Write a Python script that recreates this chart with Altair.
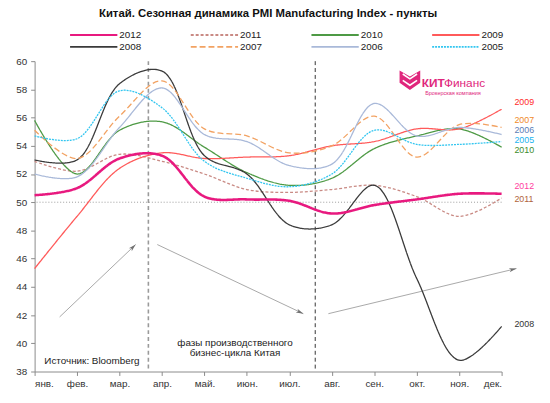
import math
import altair as alt
import pandas as pd

# ---------------- data ----------------
months = ["янв.", "фев.", "мар.", "апр.", "май.", "июн.", "июл.", "авг.", "сен.", "окт.", "ноя.", "дек."]
years = ["2012", "2011", "2010", "2009", "2008", "2007", "2006", "2005"]

pmi_2012 = [50.5, 51.0, 53.1, 53.3, 50.4, 50.2, 50.1, 49.2, 49.8, 50.2, 50.6, 50.6]
pmi_2011 = [52.9, 52.2, 53.4, 52.9, 52.0, 50.9, 50.7, 50.9, 51.2, 50.4, 49.0, 50.3]
pmi_2010 = [55.8, 52.0, 55.1, 55.7, 53.9, 52.1, 51.2, 51.7, 53.8, 54.7, 55.2, 53.9]
pmi_2009 = [45.3, 49.0, 52.4, 53.5, 53.1, 53.2, 53.3, 54.0, 54.3, 55.2, 55.2, 56.6]
pmi_2008 = [53.0, 53.0, 58.4, 59.3, 53.3, 52.0, 48.4, 48.4, 51.2, 44.6, 38.8, 41.2]
pmi_2007 = [55.1, 53.1, 56.1, 58.6, 55.2, 54.7, 53.5, 54.0, 56.1, 53.2, 55.5, 55.3]
pmi_2006 = [52.0, 51.8, 55.3, 58.1, 54.8, 54.3, 52.6, 52.7, 57.0, 54.7, 55.3, 54.8]
pmi_2005 = [54.7, 54.5, 57.9, 56.7, 52.9, 51.7, 51.1, 52.0, 55.1, 54.1, 54.1, 54.3]

# right-hand year labels (value level where each label sits)
label_years = ["2009", "2007", "2006", "2005", "2010", "2012", "2011", "2008"]
label_levels = [57.1, 55.82, 55.15, 54.4, 53.7, 51.15, 50.2, 41.35]

# phase boundaries (month position)
phase_lines = [2.68, 6.61]

# arrows: start month, start level, end month, end level
arrow_x1 = [0.59, 2.89, 6.92]
arrow_y1 = [41.87, 47.0, 42.1]
arrow_x2 = [2.38, 6.33, 11.35]
arrow_y2 = [47.0, 42.1, 45.3]

# ---------------- styles ----------------
line_colors = ["#e8197f", "#c98a84", "#4e9a45", "#ff5a5a", "#3a3a3a", "#f2a262", "#a9b9d9", "#33c6f0"]
line_dashes = [[1, 0], [3, 2], [1, 0], [1, 0], [1, 0], [6, 3], [1, 0], [2, 1]]
label_colors = {"2009": "#ff2a2a", "2007": "#f08a2a", "2006": "#5b7db5", "2005": "#22b4f0",
                "2010": "#3c8c2c", "2012": "#ff3ea0", "2011": "#b0643c", "2008": "#333333"}

FONT = "Liberation Sans"
W, H = 474, 315
XMAX, YMIN, YMAX = 11, 38, 60
px_x = W / XMAX
px_y = H / (YMAX - YMIN)

series = {"2012": pmi_2012, "2011": pmi_2011, "2010": pmi_2010, "2009": pmi_2009,
          "2008": pmi_2008, "2007": pmi_2007, "2006": pmi_2006, "2005": pmi_2005}
rows = []
for y in years:
    for i, v in enumerate(series[y]):
        rows.append({"m": i, "year": y, "v": v})
df = pd.DataFrame(rows)

xs = alt.Scale(domain=[0, XMAX], nice=False, zero=False)
ys = alt.Scale(domain=[YMIN, YMAX], nice=False, zero=False)

month_js = "[" + ",".join("'" + m + "'" for m in months) + "]"

x_axis = alt.Axis(values=list(range(12)), labelExpr=f"{month_js}[datum.value]", title=None,
                  grid=False, domainColor="#8a8a8a", tickColor="#8a8a8a", tickSize=4,
                  labelColor="#333333", labelFont=FONT, labelFontSize=10, labelPadding=3,
                  labelOverlap=False)
y_axis = alt.Axis(values=list(range(38, 61, 2)), title=None, grid=False,
                  domainColor="#8a8a8a", tickColor="#8a8a8a", tickSize=4,
                  labelColor="#333333", labelFont=FONT, labelFontSize=10, labelPadding=4,
                  labelOverlap=False)


def X(field):
    return alt.X(field, scale=xs, axis=x_axis)


def Y(field):
    return alt.Y(field, scale=ys, axis=y_axis)


# legend symbol: a long horizontal stroke drawn in a small symbol box
leg = alt.Legend(title=None, orient="none", legendX=35, legendY=-33.5,
                 columns=4, direction="horizontal", gridAlign="all",
                 symbolType="M-4,0L4,0", symbolSize=144, symbolStrokeWidth=2,
                 symbolOffset=18,
                 labelFont=FONT, labelFontSize=10, labelFontWeight="normal", labelColor="#222",
                 labelOffset=19, columnPadding=45.5, rowPadding=0, padding=0)
color_enc = alt.Color("year:N", scale=alt.Scale(domain=years, range=line_colors), legend=leg)
dash_enc = alt.StrokeDash("year:N", scale=alt.Scale(domain=years, range=line_dashes), legend=leg)

base = alt.Chart(df)
lines = base.transform_filter(alt.datum.year != "2012").mark_line(
    interpolate="catmull-rom", strokeWidth=1.3).encode(
    x=X("m:Q"), y=Y("v:Q"), color=color_enc, strokeDash=dash_enc)
line12 = base.transform_filter(alt.datum.year == "2012").mark_line(
    interpolate="catmull-rom", strokeWidth=2.6).encode(
    x=X("m:Q"), y=Y("v:Q"), color=color_enc, strokeDash=dash_enc)

# reference line at 50
ref50 = alt.Chart(pd.DataFrame({"v": [50]})).mark_rule(
    color="#9a9a9a", strokeDash=[1, 2], strokeWidth=1).encode(y=Y("v:Q"))

# phase boundaries
ph = pd.DataFrame({"m": phase_lines})
phase1 = alt.Chart(ph.iloc[[0]]).mark_rule(color="#9a9a9a", strokeWidth=1.6, strokeDash=[4, 3]).encode(
    x=X("m:Q"))
phase2 = alt.Chart(ph.iloc[[1]]).mark_rule(color="#333333", strokeWidth=1, strokeDash=[4, 3]).encode(
    x=X("m:Q"))

# arrows
ang = []
for a, b, c, d in zip(arrow_x1, arrow_y1, arrow_x2, arrow_y2):
    dx = (c - a) * px_x
    dy = -(d - b) * px_y
    ang.append(math.degrees(math.atan2(dx, -dy)) % 360)
arr = pd.DataFrame({"x1": arrow_x1, "y1": arrow_y1, "x2": arrow_x2, "y2": arrow_y2, "ang": ang})
shafts = alt.Chart(arr).mark_rule(color="#a8a8a8", strokeWidth=1).encode(
    x=X("x1:Q"), y=Y("y1:Q"), x2="x2:Q", y2="y2:Q")
heads = alt.Chart(arr).mark_point(
    shape="M0,0 L0.42,1.5 L0,1.1 L-0.42,1.5 Z", filled=True, color="#707070", opacity=1,
    size=100, strokeWidth=0).encode(
    x=X("x2:Q"), y=Y("y2:Q"), angle=alt.Angle("ang:Q", scale=None))

# right labels
lab = pd.DataFrame({"year": label_years, "lv": label_levels,
                    "m": [XMAX] * len(label_years),
                    "col": [label_colors[y] for y in label_years]})
labels = alt.Chart(lab).mark_text(align="left", baseline="middle", dx=13, font=FONT, fontSize=9).encode(
    x=X("m:Q"), y=Y("lv:Q"), text="year:N", color=alt.Color("col:N", scale=None))

# annotations
ann = pd.DataFrame({"m": [1.35, 4.72, 4.72], "v": [38.75, 40.05, 39.3],
                    "t": ["Источник: Bloomberg", "фазы производственного", "бизнес-цикла Китая"]})
notes = alt.Chart(ann).mark_text(align="center", baseline="middle", font=FONT, fontSize=10,
                                 color="#222222").encode(x=X("m:Q"), y=Y("v:Q"), text="t:N")

# logo
logo_icon = alt.Chart(pd.DataFrame({"m": [8.84], "v": [58.65]})).mark_point(
    shape="M-1,-0.95 L0,-0.35 L1,-0.95 L1,0.25 L0,0.95 L-1,0.25 Z", filled=True,
    color="#e0267c", opacity=1, size=440, strokeWidth=0).encode(x=X("m:Q"), y=Y("v:Q"))
logo_stripe = alt.Chart(pd.DataFrame({"m": [8.84, 8.84], "v": [58.9, 58.45]})).mark_point(
    shape="M-0.8,-0.3 L0,0.25 L0.8,-0.3", filled=False, color="white", opacity=1,
    size=330, strokeWidth=1.6).encode(x=X("m:Q"), y=Y("v:Q"))
logo_kit = alt.Chart(pd.DataFrame({"m": [9.12], "v": [58.14], "t": ["КИТ"]})).mark_text(
    align="left", baseline="alphabetic", font=FONT, fontSize=12, fontWeight="bold",
    color="#e0267c").encode(x=X("m:Q"), y=Y("v:Q"), text="t:N")
logo_fin = alt.Chart(pd.DataFrame({"m": [9.12], "v": [58.14], "t": ["Финанс"]})).mark_text(
    align="left", baseline="alphabetic", dx=22.5, font=FONT, fontSize=12,
    color="#e0267c").encode(x=X("m:Q"), y=Y("v:Q"), text="t:N")
logo_sub = alt.Chart(pd.DataFrame({"m": [9.2], "v": [57.6], "t": ["Брокерская компания"]})).mark_text(
    align="left", baseline="alphabetic", font=FONT, fontSize=5.6,
    color="#e0267c").encode(x=X("m:Q"), y=Y("v:Q"), text="t:N")

chart = alt.layer(
    ref50, phase1, phase2, shafts, heads, lines, line12, labels, notes,
    logo_icon, logo_stripe, logo_kit, logo_fin, logo_sub
).properties(
    width=W, height=H,
    title=alt.TitleParams("Китай. Сезонная динамика PMI Manufacturing Index - пункты",
                          font=FONT, fontSize=11.5, fontWeight="bold", color="#111111",
                          anchor="middle", frame="group", offset=0, dy=-8.5),
    autosize=alt.AutoSizeParams(type="none"),
    padding={"left": 27, "top": 51, "right": 41, "bottom": 29},
).configure_view(stroke=None)

chart.save("out.html", embed_options={"renderer": "svg", "actions": False})
